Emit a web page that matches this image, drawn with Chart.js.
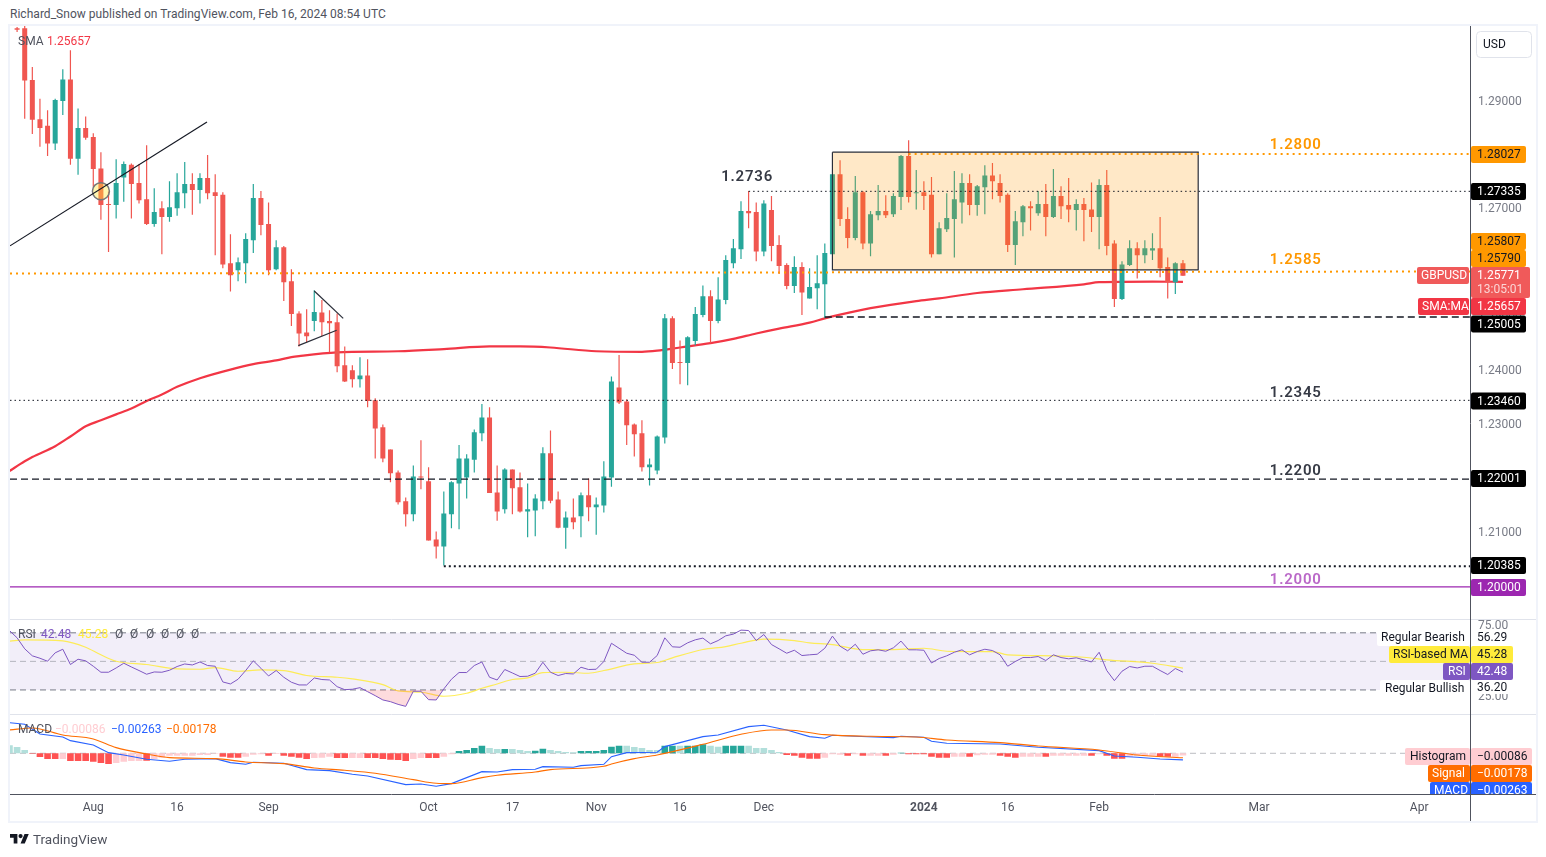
<!DOCTYPE html>
<html>
<head>
<meta charset="utf-8">
<title>GBPUSD</title>
<script src="https://cdn.jsdelivr.net/npm/chart.js@4/dist/chart.umd.min.js"></script>
<style>
  html, body { margin: 0; padding: 0; background: #fff; }
  body { width: 1546px; height: 857px; position: relative; overflow: hidden; font-family: Roboto, sans-serif; }
  #myChart { position: absolute; left: 0; top: 0; }
  #published { position: absolute; left: 10px; top: 7px; font-size: 12px; letter-spacing: 0.03px; color: #50535e; white-space: nowrap; }
  #logo { position: absolute; left: 10px; top: 834px; width: 19px; height: 9.5px; }
  #brand { position: absolute; left: 33px; top: 831px; font-size: 13.5px; color: #50535e; }
</style>
</head>
<body>
<div id="published">Richard_Snow published on TradingView.com, Feb 16, 2024 08:54 UTC</div>
<canvas id="myChart" width="1546" height="857"></canvas>
<svg id="logo" viewBox="0 4 36 18"><path fill="#131722" d="M14 22H7V11H0V4h14v18zM28 22h-8l7.5-18h8L28 22z"/><circle fill="#131722" cx="20" cy="8" r="4"/></svg>
<div id="brand">TradingView</div>
<script>
// bar number 0 is Aug 1 2023, one bar per weekday
const firstBar = -10;

const opens = [
  1.3036,1.3036,1.2940,1.2867,1.2855,1.2822,1.2901,1.2941,1.2794,1.2851,
  1.2834,1.2776,1.2709,1.2708,1.2759,1.2783,1.2749,1.2719,1.2673,1.2702,
  1.2686,1.2702,1.2730,1.2747,1.2736,1.2758,1.2732,1.2727,1.2600,1.2587,
  1.2600,1.2643,1.2721,1.2673,1.2589,1.2630,1.2567,1.2507,1.2472,1.2493,
  1.2509,1.2493,1.2491,1.2411,1.2402,1.2385,1.2392,1.2346,1.2296,1.2255,
  1.2212,1.2159,1.2135,1.2205,1.2196,1.2088,1.2075,1.2135,1.2192,1.2203,
  1.2236,1.2285,1.2314,1.2175,1.2144,1.2218,1.2185,1.2140,1.2142,1.2159,
  1.2248,1.2162,1.2110,1.2129,1.2131,1.2170,1.2148,1.2151,1.2203,1.2370,
  1.2344,1.2301,1.2285,1.2222,1.2216,1.2277,1.2498,1.2416,1.2415,1.2456,
  1.2504,1.2539,1.2493,1.2532,1.2600,1.2626,1.2697,1.2695,1.2622,1.2699,
  1.2634,1.2597,1.2558,1.2593,1.2535,1.2554,1.2561,1.2617,1.2765,1.2682,
  1.2647,1.2732,1.2637,1.2689,1.2697,1.2691,1.2723,1.2799,1.2730,1.2732,
  1.2727,1.2617,1.2663,1.2682,1.2713,1.2749,1.2708,1.2741,1.2763,1.2749,
  1.2727,1.2634,1.2676,1.2706,1.2693,1.2710,1.2686,1.2725,1.2708,1.2699,
  1.2710,1.2700,1.2686,1.2745,1.2637,1.2534,1.2597,1.2628,1.2615,1.2624,
  1.2628,1.2593,1.2565,1.2600
];
const highs = [
  1.3038,1.3044,1.2964,1.2905,1.2884,1.2905,1.2960,1.2995,1.2887,1.2872,
  1.2841,1.2806,1.2733,1.2793,1.2789,1.2785,1.2784,1.2819,1.2739,1.2715,
  1.2752,1.2767,1.2788,1.2767,1.2767,1.2801,1.2765,1.2732,1.2654,1.2611,
  1.2656,1.2747,1.2734,1.2713,1.2643,1.2632,1.2589,1.2511,1.2515,1.2550,
  1.2532,1.2513,1.2507,1.2446,1.2411,1.2426,1.2422,1.2350,1.2301,1.2255,
  1.2216,1.2166,1.2225,1.2272,1.2222,1.2103,1.2177,1.2196,1.2263,1.2246,
  1.2292,1.2339,1.2333,1.2225,1.2220,1.2218,1.2212,1.2192,1.2172,1.2259,
  1.2290,1.2177,1.2140,1.2164,1.2175,1.2201,1.2166,1.2233,1.2390,1.2430,
  1.2348,1.2303,1.2309,1.2238,1.2281,1.2506,1.2502,1.2457,1.2465,1.2519,
  1.2559,1.2550,1.2574,1.2615,1.2645,1.2715,1.2734,1.2713,1.2717,1.2725,
  1.2652,1.2600,1.2613,1.2602,1.2591,1.2615,1.2637,1.2765,1.2791,1.2704,
  1.2762,1.2734,1.2697,1.2745,1.2726,1.2730,1.2801,1.2828,1.2773,1.2752,
  1.2760,1.2676,1.2730,1.2771,1.2767,1.2765,1.2745,1.2782,1.2786,1.2765,
  1.2730,1.2697,1.2708,1.2715,1.2734,1.2747,1.2775,1.2743,1.2758,1.2719,
  1.2721,1.2750,1.2756,1.2773,1.2643,1.2604,1.2643,1.2639,1.2643,1.2656,
  1.2686,1.2611,1.2602,1.2606
];
const lows = [
  1.3029,1.2868,1.2840,1.2816,1.2799,1.2810,1.2875,1.2783,1.2764,1.2829,
  1.2742,1.2681,1.2621,1.2683,1.2714,1.2683,1.2711,1.2671,1.2668,1.2617,
  1.2677,1.2688,1.2702,1.2690,1.2711,1.2719,1.2615,1.2591,1.2548,1.2567,
  1.2563,1.2619,1.2652,1.2578,1.2587,1.2530,1.2484,1.2446,1.2454,1.2474,
  1.2465,1.2435,1.2398,1.2380,1.2370,1.2370,1.2333,1.2238,1.2231,1.2194,
  1.2153,1.2112,1.2122,1.2181,1.2086,1.2053,1.2040,1.2109,1.2107,1.2164,
  1.2212,1.2270,1.2174,1.2123,1.2136,1.2135,1.2138,1.2092,1.2094,1.2144,
  1.2155,1.2109,1.2071,1.2107,1.2092,1.2122,1.2097,1.2138,1.2186,1.2339,
  1.2263,1.2242,1.2214,1.2188,1.2209,1.2266,1.2404,1.2376,1.2374,1.2448,
  1.2500,1.2452,1.2489,1.2524,1.2591,1.2608,1.2665,1.2604,1.2613,1.2604,
  1.2580,1.2552,1.2545,1.2504,1.2535,1.2515,1.2498,1.2617,1.2669,1.2628,
  1.2643,1.2626,1.2613,1.2680,1.2684,1.2686,1.2699,1.2713,1.2700,1.2699,
  1.2611,1.2617,1.2658,1.2611,1.2674,1.2689,1.2688,1.2691,1.2719,1.2713,
  1.2621,1.2597,1.2650,1.2661,1.2688,1.2650,1.2684,1.2682,1.2676,1.2661,
  1.2641,1.2658,1.2626,1.2615,1.2519,1.2532,1.2595,1.2572,1.2600,1.2606,
  1.2574,1.2535,1.2543,1.2577
];
const closes = [
  1.3033,1.2939,1.2866,1.2851,1.2822,1.2903,1.2941,1.2794,1.2851,1.2833,
  1.2775,1.2708,1.2708,1.2749,1.2784,1.2747,1.2717,1.2673,1.2695,1.2686,
  1.2704,1.2732,1.2747,1.2736,1.2758,1.2730,1.2725,1.2598,1.2578,1.2602,
  1.2645,1.2721,1.2671,1.2587,1.2630,1.2565,1.2506,1.2470,1.2465,1.2510,
  1.2491,1.2489,1.2409,1.2381,1.2385,1.2392,1.2345,1.2294,1.2238,1.2211,
  1.2157,1.2135,1.2205,1.2203,1.2086,1.2075,1.2136,1.2194,1.2238,1.2238,
  1.2287,1.2314,1.2174,1.2140,1.2218,1.2183,1.2140,1.2144,1.2164,1.2248,
  1.2160,1.2110,1.2129,1.2120,1.2170,1.2148,1.2153,1.2205,1.2381,1.2342,
  1.2300,1.2283,1.2222,1.2227,1.2279,1.2498,1.2415,1.2415,1.2463,1.2506,
  1.2539,1.2493,1.2533,1.2606,1.2628,1.2697,1.2693,1.2622,1.2711,1.2632,
  1.2595,1.2558,1.2593,1.2546,1.2556,1.2563,1.2619,1.2765,1.2682,1.2647,
  1.2732,1.2637,1.2691,1.2697,1.2689,1.2725,1.2799,1.2723,1.2732,1.2725,
  1.2617,1.2665,1.2684,1.2719,1.2749,1.2708,1.2743,1.2763,1.2752,1.2725,
  1.2634,1.2678,1.2706,1.2702,1.2710,1.2686,1.2725,1.2706,1.2700,1.2710,
  1.2699,1.2686,1.2745,1.2632,1.2534,1.2598,1.2628,1.2615,1.2628,1.2628,
  1.2591,1.2565,1.2600,1.25771
];

// 200 day SMA, read at the bends
const smaBars = [-11,-9,-8,-5,-3,-1,1,3,5,7,9,11,14,18,21,24,26,27,32,40,46,52,56,60,66,72,74,77,81,84,87,90,94,96,98,102,108,111,116,122,130,132,139,143];
const smaVals = [1.2215,1.2233,1.2241,1.2261,1.2279,1.2298,1.2309,1.2320,1.2331,1.2345,1.2357,1.2371,1.2387,1.2403,1.2413,1.2420,1.2426,1.2428,1.2435,1.2437,1.2441,1.2446,1.2446,1.2444,1.2437,1.2436,1.2438,1.2444,1.2452,1.2460,1.2470,1.2479,1.2490,1.2498,1.2505,1.2517,1.2530,1.2535,1.2545,1.2552,1.2561,1.2565,1.2566,1.25657];

// RSI pane, one value per bar from bar -11
const rsiFirstBar = -11;
const rsiVals = [
  71.6,66.5,58.8,53.9,52.2,50.1,56.0,58.5,47.8,51.5,50.4,
  46.6,42.4,42.4,45.4,48.7,46.1,43.6,41.0,42.6,42.4,
  43.8,46.4,48.2,47.5,49.6,47.1,46.6,35.6,34.2,37.5,
  43.6,50.4,45.2,39.8,43.6,38.9,35.4,33.5,33.5,38.4,
  37.3,37.0,32.3,30.2,30.5,31.6,28.8,26.0,23.0,21.8,
  19.9,18.5,29.1,29.1,23.2,23.0,30.7,37.5,42.2,42.2,
  47.1,49.6,38.9,37.0,44.3,41.9,39.4,39.6,41.7,49.4,
  42.4,40.1,41.5,41.2,45.9,44.3,44.5,49.9,62.7,59.2,
  55.7,54.3,49.4,49.4,54.1,66.5,60.2,59.9,63.0,65.1,
  66.3,62.3,64.6,67.9,69.1,71.9,71.6,64.6,68.8,61.8,
  58.8,55.7,57.8,54.1,54.6,55.0,59.2,67.7,60.6,57.4,
  62.0,55.0,57.4,58.1,57.1,59.5,64.2,58.1,58.1,57.8,
  48.9,52.0,53.9,56.4,58.1,54.6,56.9,58.5,57.6,54.6,
  46.6,49.9,52.7,52.7,53.4,50.6,54.6,52.7,51.8,52.5,
  51.1,49.6,56.4,43.6,36.5,43.1,46.4,45.4,46.6,46.6,
  43.6,40.8,45.0,42.48
];
const rsiMaBars = [-11,-9,-4,-1,1,3,7,11,14,16,19,22,25,28,32,34,38,40,43,46,49,51,53,55,57,59,62,65,67,71,74,76,80,83,85,88,92,94,97,101,105,109,112,115,118,120,126,130,133,139,143];
const rsiMaVals = [64.2,65.1,64.4,59.9,54.6,50.1,47.8,44.7,44.5,45.7,43.1,44.0,43.6,40.1,38.9,37.7,33.7,29.3,28.4,25.6,27.7,31.2,34.2,37.3,38.4,42.2,42.4,41.7,43.6,48.2,49.2,52.5,58.3,60.4,62.7,65.6,64.6,63.0,61.8,58.3,58.3,59.2,57.1,56.9,56.9,54.6,53.9,52.9,51.1,48.7,45.28];
const rsiBands = [70, 50, 30];

// MACD pane, histogram from bar -11
const histVals = [
  0.0032,0.00253,0.00133,-0.00013,-0.00147,-0.00227,-0.00227,-0.00227,-0.00307,-0.00307,-0.00307,
  -0.00333,-0.00387,-0.00427,-0.00387,-0.00333,-0.00307,-0.00307,-0.00293,-0.00227,-0.00173,
  -0.00093,-0.00093,-0.00093,-0.00093,-0.00067,-0.00067,-0.00013,-0.00133,-0.00173,-0.00173,
  -0.00133,-0.00053,-0.0004,-0.00093,-0.00027,-0.00093,-0.00133,-0.00173,-0.00227,-0.00187,
  -0.00173,-0.00133,-0.00187,-0.00187,-0.00187,-0.00187,-0.00187,-0.00187,-0.00227,-0.00253,
  -0.00267,-0.00307,-0.00227,-0.00187,-0.00187,-0.00187,-0.00133,-0.0004,0.00093,0.00133,
  0.00213,0.00307,0.00213,0.00173,0.00173,0.00173,0.00133,0.00093,0.00107,0.00187,
  0.00133,0.00093,0.00053,0.0004,0.00093,0.00093,0.00093,0.00133,0.00267,0.00307,
  0.00307,0.00253,0.00213,0.00133,0.00133,0.00307,0.00307,0.00307,0.00307,0.00307,
  0.0036,0.00307,0.00267,0.00307,0.00307,0.00307,0.00307,0.00213,0.00213,0.00133,
  0.00053,-0.00067,-0.00093,-0.00173,-0.00213,-0.00213,-0.00173,-0.0004,-0.00053,-0.00093,
  -0.0004,-0.00093,-0.00093,-0.00093,-0.00093,-0.00053,0.00027,-0.0004,-0.0004,-0.0004,
  -0.00133,-0.00173,-0.00173,-0.00133,-0.00133,-0.00133,-0.0008,-0.00053,-0.00053,-0.00093,
  -0.00133,-0.00173,-0.00133,-0.00133,-0.00133,-0.00133,-0.00093,-0.00093,-0.00093,-0.00093,
  -0.00093,-0.00093,-0.0004,-0.00093,-0.00213,-0.00213,-0.00133,-0.00093,-0.00093,-0.00093,
  -0.00133,-0.00133,-0.00133,-0.00086
];
// 1 = growing bar (solid colour), 0 = shrinking bar (pale colour)
const histSolid = [
  0,0,0,1,1,1,1,0,1,1,
  1,1,1,1,0,0,0,0,1,0,
  0,0,0,0,0,0,0,0,1,1,
  1,0,0,0,1,0,1,1,1,1,
  0,0,0,1,1,0,0,1,1,1,
  1,1,1,0,0,1,1,0,0,1,
  1,1,1,0,0,1,0,0,0,1,
  1,0,0,0,0,1,1,1,1,1,
  1,0,0,0,0,0,1,1,0,1,
  1,1,0,0,1,1,1,0,0,0,
  0,0,1,1,1,1,1,0,0,0,
  1,0,1,0,0,1,0,1,1,1,
  1,1,1,1,0,0,1,0,0,0,
  1,1,1,0,0,0,1,0,0,0,
  0,0,1,0,1,1,1,0,0,0,
  0,1,1,0,0
];
const macdBars = [-11,-9,-7,-4,-3,0,2,4,7,10,12,16,18,20,21,25,28,31,34,36,41,43,45,47,51,53,55,58,59,63,64,67,68,70,74,75,77,80,82,86,88,91,94,96,97,100,105,106,109,110,112,119,124,132,134,137,140,143];
const macdVals = [0.01227,0.0116,0.00773,0.00653,0.00507,0.00333,0.00027,-0.00067,-0.0024,-0.0032,-0.0024,-0.00213,-0.00373,-0.0044,-0.0036,-0.004,-0.00653,-0.00693,-0.0084,-0.00907,-0.01253,-0.01227,-0.0132,-0.01213,-0.00733,-0.00747,-0.00653,-0.0064,-0.00533,-0.0056,-0.00493,-0.0044,-0.00133,0.00027,0.0004,0.00267,0.00427,0.00667,0.00733,0.01067,0.0112,0.00933,0.00667,0.006,0.0072,0.0068,0.00627,0.0068,0.0064,0.0048,0.004,0.00373,0.0024,0.00107,-0.00107,-0.0016,-0.00227,-0.00263];
const signalBars = [-11,-8,-4,0,3,7,10,16,20,25,29,33,37,42,45,47,51,53,58,60,67,68,71,74,80,85,89,91,96,102,108,112,119,124,132,137,143];
const signalVals = [0.00933,0.01013,0.00733,0.00573,0.00227,-0.00027,-0.00173,-0.00213,-0.00347,-0.00413,-0.00587,-0.0068,-0.008,-0.01053,-0.012,-0.01213,-0.00973,-0.0088,-0.00747,-0.00653,-0.0052,-0.00427,-0.00213,-0.00067,0.0036,0.0076,0.00933,0.00933,0.00747,0.0068,0.00653,0.00533,0.00427,0.00293,0.00133,-0.00067,-0.00178];

// x axis, bar number and text
const timeBars = [0, 11, 23, 44, 55, 66, 77, 88, 109, 120, 132, 153, 174];
const timeLabels = ['Aug', '16', 'Sep', 'Oct', '17', 'Nov', '16', 'Dec', '2024', '16', 'Feb', 'Mar', 'Apr'];

// drawings on the price pane
const trendBars = [-10.93, 14.92];
const trendVals = [1.26324, 1.28619];
const pennantTopBars = [29, 32.8];
const pennantTopVals = [1.25488, 1.2498];
const pennantLowBars = [26.9, 31.94];
const pennantLowVals = [1.24475, 1.2476];
const boxBars = [97, 145];
const boxVals = [1.2806, 1.2588];
const circleBar = 1;
const circleVal = 1.27338;

// plot extents
const xMin = -10.93, xMax = 180.67;
const priceMin = 1.19397, priceMax = 1.3040;
const rsiMin = 12.67, rsiMax = 79.33;
const macdMin = -0.01648, macdMax = 0.01544;

const UP = '#26a69a';
const DOWN = '#f05650';
const FONT = 'Roboto, sans-serif';

const xy = (bars, vals) => bars.map((b, i) => ({ x: b, y: vals[i] }));
const barNo = (i) => firstBar + i;

function lineSet(data, color, width, yAxisID, order, dash) {
  return {
    type: 'line',
    data: data,
    yAxisID: yAxisID,
    borderColor: color,
    borderWidth: width,
    borderDash: dash || [],
    pointRadius: 0,
    tension: 0,
    fill: false,
    order: order
  };
}

const wicks = {
  type: 'bar',
  data: opens.map((o, i) => ({ x: barNo(i), y: [lows[i], highs[i]] })),
  backgroundColor: opens.map((o, i) => closes[i] >= o ? UP : DOWN),
  barThickness: 1.2,
  inflateAmount: 0,
  grouped: false,
  yAxisID: 'y',
  order: 6
};
const bodies = {
  type: 'bar',
  data: opens.map((o, i) => ({ x: barNo(i), y: [o, closes[i]] })),
  backgroundColor: opens.map((o, i) => closes[i] >= o ? UP : DOWN),
  barThickness: 5,
  inflateAmount: 0,
  minBarLength: 1,
  grouped: false,
  yAxisID: 'y',
  order: 5
};

const box = lineSet([
  { x: boxBars[0], y: boxVals[0] },
  { x: boxBars[1], y: boxVals[0] },
  { x: boxBars[1], y: boxVals[1] },
  { x: boxBars[0], y: boxVals[1] },
  { x: boxBars[0], y: boxVals[0] }
], '#2a2e39', 1.2, 'y', 4);
box.fill = 'shape';
box.backgroundColor = 'rgba(255,152,0,0.22)';

const circle = {
  type: 'scatter',
  data: [{ x: circleBar, y: circleVal }],
  yAxisID: 'y',
  pointRadius: 8.5,
  pointBackgroundColor: 'rgba(255,235,59,0.4)',
  pointBorderColor: '#777',
  pointBorderWidth: 1.5,
  order: 3
};

const sma = lineSet(xy(smaBars, smaVals), '#f23645', 2.2, 'y', 7);
sma.cubicInterpolationMode = 'monotone';

const rsiData = rsiVals.map((v, i) => ({ x: rsiFirstBar + i, y: v }));
const rsiLine = lineSet(rsiData, '#7e57c2', 1, 'yRsi', 2);
rsiLine.fill = { target: { value: 30 }, above: 'rgba(0,0,0,0)', below: 'rgba(242,54,69,0.18)' };
const rsiBandFill = lineSet([{ x: xMin, y: rsiBands[0] }, { x: xMax, y: rsiBands[0] }], 'rgba(0,0,0,0)', 0, 'yRsi', 5);
rsiBandFill.fill = { target: { value: rsiBands[2] } };
rsiBandFill.backgroundColor = 'rgba(126,87,194,0.1)';
const rsiMa = lineSet(xy(rsiMaBars, rsiMaVals), 'rgba(255,235,59,0.85)', 1.2, 'yRsi', 3);
rsiMa.cubicInterpolationMode = 'monotone';

const histogram = {
  type: 'bar',
  data: histVals.map((v, i) => ({ x: rsiFirstBar + i, y: v })),
  backgroundColor: histVals.map((v, i) => v >= 0 ? (histSolid[i] ? '#26a69a' : '#b2dfdb') : (histSolid[i] ? '#ff5252' : '#ffcdd2')),
  barThickness: 6.6,
  inflateAmount: 0,
  grouped: false,
  yAxisID: 'yMacd',
  order: 4
};
const signal = lineSet(xy(signalBars, signalVals), '#ff6d00', 1.1, 'yMacd', 2);
signal.cubicInterpolationMode = 'monotone';

const config = {
  data: {
    datasets: [
      // price pane
      sma,
      wicks,
      bodies,
      box,
      circle,
      lineSet([{ x: xMin, y: 1.2581 }, { x: xMax, y: 1.2585 }], '#ff9800', 2, 'y', 2, [2, 4]),
      lineSet([{ x: 107, y: 1.28027 }, { x: xMax, y: 1.28027 }], '#ff9800', 2, 'y', 2, [2, 4]),
      lineSet([{ x: 86, y: 1.27335 }, { x: xMax, y: 1.27335 }], '#131722', 1, 'y', 2, [1.5, 3]),
      lineSet([{ x: 96, y: 1.25005 }, { x: xMax, y: 1.25005 }], '#131722', 1.3, 'y', 2, [7, 4]),
      lineSet([{ x: xMin, y: 1.2346 }, { x: xMax, y: 1.2346 }], '#131722', 1, 'y', 2, [1.5, 3]),
      lineSet([{ x: xMin, y: 1.22001 }, { x: xMax, y: 1.22001 }], '#131722', 1.3, 'y', 2, [7, 4]),
      lineSet([{ x: 46, y: 1.20385 }, { x: xMax, y: 1.20385 }], '#131722', 2, 'y', 2, [2, 3]),
      lineSet([{ x: xMin, y: 1.2 }, { x: xMax, y: 1.2 }], '#9c27b0', 1.2, 'y', 2),
      lineSet(xy(trendBars, trendVals), '#131722', 1.2, 'y', 1),
      lineSet(xy(pennantTopBars, pennantTopVals), '#2a2e39', 1.2, 'y', 1),
      lineSet(xy(pennantLowBars, pennantLowVals), '#2a2e39', 1.2, 'y', 1),
      // RSI pane
      rsiBandFill,
      lineSet([{ x: xMin, y: rsiBands[0] }, { x: xMax, y: rsiBands[0] }], '#787b86', 1, 'yRsi', 4, [6, 4]),
      lineSet([{ x: xMin, y: rsiBands[1] }, { x: xMax, y: rsiBands[1] }], 'rgba(120,123,134,0.5)', 1, 'yRsi', 4, [6, 4]),
      lineSet([{ x: xMin, y: rsiBands[2] }, { x: xMax, y: rsiBands[2] }], '#787b86', 1, 'yRsi', 4, [6, 4]),
      rsiMa,
      rsiLine,
      // MACD pane
      lineSet([{ x: xMin, y: 0 }, { x: xMax, y: 0 }], 'rgba(120,123,134,0.5)', 1, 'yMacd', 5, [6, 4]),
      histogram,
      lineSet(xy(macdBars, macdVals), '#2962ff', 1.1, 'yMacd', 3),
      signal
    ]
  },
  options: {
    responsive: false,
    animation: false,
    devicePixelRatio: 1,
    layout: { padding: { left: 10, right: 10, top: 26, bottom: 36 } },
    plugins: { legend: { display: false }, tooltip: { enabled: false } },
    scales: {
      x: {
        type: 'linear',
        min: xMin,
        max: xMax,
        offset: false,
        grid: { display: false, drawTicks: false },
        border: { display: false },
        afterFit: (s) => { s.height = 26.5; },
        afterBuildTicks: (s) => { s.ticks = timeBars.map((b) => ({ value: b })); },
        ticks: {
          autoSkip: false,
          maxRotation: 0,
          padding: 6,
          color: '#50535e',
          font: (ctx) => ({ family: FONT, size: 12, weight: ctx.tick && ctx.tick.value === 109 ? '700' : '400' }),
          callback: (v) => timeLabels[timeBars.indexOf(v)]
        }
      },
      y: {
        position: 'right',
        stack: 'panes',
        stackWeight: 593.5,
        min: priceMin,
        max: priceMax,
        grid: { display: false, drawTicks: false },
        border: { display: false },
        afterFit: (s) => { s.width = 66; },
        ticks: {
          stepSize: 0.01,
          includeBounds: false,
          padding: 8,
          color: '#787b86',
          font: { family: FONT, size: 12 },
          callback: (v) => v.toFixed(5)
        }
      },
      yRsi: {
        position: 'right',
        stack: 'panes',
        stackWeight: 95.2,
        min: rsiMin,
        max: rsiMax,
        grid: { display: false, drawTicks: false },
        border: { display: false },
        afterFit: (s) => { s.width = 66; },
        ticks: {
          stepSize: 25,
          includeBounds: false,
          padding: 8,
          color: '#787b86',
          font: { family: FONT, size: 12 },
          callback: (v) => v.toFixed(2)
        }
      },
      yMacd: {
        position: 'right',
        stack: 'panes',
        stackWeight: 79.8,
        min: macdMin,
        max: macdMax,
        grid: { display: false, drawTicks: false },
        border: { display: false },
        afterFit: (s) => { s.width = 66; },
        ticks: { display: false }
      }
    }
  }
};

function text(ctx, str, x, y, color, font, align) {
  ctx.font = font || ('12px ' + FONT);
  ctx.fillStyle = color;
  ctx.textAlign = align || 'left';
  ctx.textBaseline = 'middle';
  ctx.fillText(str, x, y);
}

// coloured label with its text, used on the right hand axis
function tag(ctx, str, left, top, w, h, bg, fg, textX) {
  ctx.fillStyle = bg;
  ctx.beginPath();
  ctx.roundRect(left, top, w, h, 2);
  ctx.fill();
  text(ctx, str, textX, top + h / 2 + 0.5, fg);
}

const overlay = {
  id: 'overlay',
  afterDatasetsDraw(chart) {
    const ctx = chart.ctx;
    const bold = '600 15px ' + FONT;
    const labelX = chart.scales.x.getPixelForValue(157.8);
    const yp = chart.scales.y;
    ctx.save();
    ctx.letterSpacing = '0.8px';
    text(ctx, '1.2800', labelX, yp.getPixelForValue(1.28) - 10, '#ff9800', bold, 'center');
    text(ctx, '1.2585', labelX, yp.getPixelForValue(1.2585) - 11, '#ff9800', bold, 'center');
    text(ctx, '1.2345', labelX, yp.getPixelForValue(1.2345) - 7.5, '#363a45', bold, 'center');
    text(ctx, '1.2200', labelX, yp.getPixelForValue(1.22) - 8, '#363a45', bold, 'center');
    text(ctx, '1.2000', labelX, yp.getPixelForValue(1.2) - 6.5, '#ba68c8', bold, 'center');
    text(ctx, '1.2736', chart.scales.x.getPixelForValue(85.8), yp.getPixelForValue(1.2736) - 13, '#363a45', bold, 'center');
    ctx.restore();

    // pane legends
    text(ctx, 'SMA', 18, 42, '#50535e');
    text(ctx, '1.25657', 47, 42, '#f23645');
    text(ctx, 'RSI', 18, 635, '#50535e');
    text(ctx, '42.48', 41, 635, '#7e57c2');
    text(ctx, '45.28', 78, 635, '#ffeb3b');
    [115, 130, 146, 161, 176, 191].forEach((x) => text(ctx, '\u00d8', x, 635, '#50535e'));
    text(ctx, 'MACD', 18, 730, '#50535e');
    text(ctx, '\u22120.00086', 55, 730, '#ffcdd2');
    text(ctx, '\u22120.00263', 111, 730, '#2962ff');
    text(ctx, '\u22120.00178', 166, 730, '#ff6d00');
  },
  afterDraw(chart) {
    const ctx = chart.ctx;
    ctx.save();

    // frame and pane separators
    ctx.strokeStyle = '#f0f3fa';
    ctx.lineWidth = 2;
    ctx.strokeRect(9, 25, 1528, 797);
    ctx.strokeStyle = '#e0e3eb';
    ctx.lineWidth = 1;
    ctx.beginPath();
    ctx.moveTo(10, 619.5); ctx.lineTo(1536, 619.5);
    ctx.moveTo(10, 714.5); ctx.lineTo(1536, 714.5);
    ctx.stroke();
    ctx.strokeStyle = '#50535e';
    ctx.beginPath();
    ctx.moveTo(10, 794.5); ctx.lineTo(1536, 794.5);
    ctx.moveTo(1470.5, 26); ctx.lineTo(1470.5, 821);
    ctx.stroke();

    // currency button
    ctx.fillStyle = '#fff';
    ctx.strokeStyle = '#e0e3eb';
    ctx.beginPath();
    ctx.roundRect(1476.5, 31.5, 55, 26, 4);
    ctx.fill();
    ctx.stroke();
    text(ctx, 'USD', 1483, 44.5, '#131722');

    // price axis tags
    const X = 1471, TX = 1477, W = 55, H = 17;
    tag(ctx, '1.28027', X, 146, W, H, '#ff9800', '#131722', TX);
    tag(ctx, '1.27335', X, 183, W, H, '#000', '#fff', TX);
    tag(ctx, '1.25807', X, 233, W, H, '#ff9800', '#131722', TX);
    tag(ctx, '1.25790', X, 250, W, H, '#ff9800', '#131722', TX);
    tag(ctx, 'GBPUSD', 1417, 267, 52, H, '#f05a5a', '#fff', 1421);
    ctx.fillStyle = '#f05a5a';
    ctx.beginPath();
    ctx.roundRect(X, 267, 59, 31, 2);
    ctx.fill();
    text(ctx, '1.25771', TX, 275.5, '#fff');
    text(ctx, '13:05:01', TX, 289.5, 'rgba(255,255,255,0.75)');
    tag(ctx, 'SMA:MA', 1418, 298, 51, H, '#f23645', '#fff', 1422);
    tag(ctx, '1.25657', X, 298, W, H, '#f23645', '#fff', TX);
    tag(ctx, '1.25005', X, 315.5, W, H, '#000', '#fff', TX);
    tag(ctx, '1.23460', X, 392.5, W, H, '#000', '#fff', TX);
    tag(ctx, '1.22001', X, 470, W, H, '#000', '#fff', TX);
    tag(ctx, '1.20385', X, 557, W, H, '#000', '#fff', TX);
    tag(ctx, '1.20000', X, 579, W, H, '#9c27b0', '#fff', TX);

    // RSI tags
    tag(ctx, 'Regular Bearish', 1377, 629, 93, H, '#fff', '#131722', 1381);
    tag(ctx, '56.29', X, 629, 42, H, '#fff', '#131722', TX);
    tag(ctx, 'RSI-based MA', 1389, 646, 81, H, '#ffeb3b', '#131722', 1393);
    tag(ctx, '45.28', X, 646, 42, H, '#ffeb3b', '#131722', TX);
    tag(ctx, 'RSI', 1443, 663, 27, H, '#7e57c2', '#fff', 1448);
    tag(ctx, '42.48', X, 663, 42, H, '#7e57c2', '#fff', TX);
    tag(ctx, 'Regular Bullish', 1380, 680, 90, H, '#fff', '#131722', 1385);
    tag(ctx, '36.20', X, 680, 42, 14, '#fff', '#131722', TX);

    // MACD tags, the last one is cut by the bottom of the pane
    ctx.beginPath();
    ctx.rect(1300, 715, 246, 79);
    ctx.clip();
    tag(ctx, 'Histogram', 1405, 748, 65, H, '#ffcdd2', '#131722', 1410);
    tag(ctx, '\u22120.00086', X, 748, 61, H, '#ffcdd2', '#131722', TX);
    tag(ctx, 'Signal', 1428, 765, 42, H, '#ff6d00', '#fff', 1432);
    tag(ctx, '\u22120.00178', X, 765, 61, H, '#ff6d00', '#fff', TX);
    tag(ctx, 'MACD', 1430, 782, 40, H, '#2962ff', '#fff', 1434);
    tag(ctx, '\u22120.00263', X, 782, 61, H, '#2962ff', '#fff', TX);
    ctx.restore();
  }
};

config.plugins = [overlay];

const myChart = new Chart(document.getElementById('myChart'), config);
</script>
</body>
</html>
